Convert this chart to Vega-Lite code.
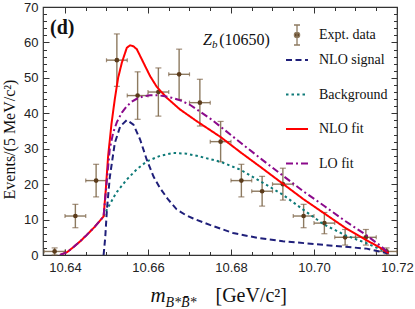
{
"$schema": "https://vega.github.io/schema/vega-lite/v6.json",
"width": 354, "height": 248,
"autosize": {"type": "none"},
"padding": {"left": 43, "top": 7, "right": 18, "bottom": 54},
"background": "white",
"datasets": {
"points": [
{"x":10.6375,"y":1,"lo":0,"hi":2,"xlo":10.635,"xhi":10.640},
{"x":10.6425,"y":11,"lo":7.7,"hi":14.3,"xlo":10.640,"xhi":10.645},
{"x":10.6475,"y":21,"lo":16.4,"hi":25.6,"xlo":10.645,"xhi":10.650},
{"x":10.6525,"y":55,"lo":47.6,"hi":62.4,"xlo":10.650,"xhi":10.655},
{"x":10.6575,"y":45,"lo":38.3,"hi":51.7,"xlo":10.655,"xhi":10.660},
{"x":10.6625,"y":46,"lo":39.2,"hi":52.8,"xlo":10.660,"xhi":10.665},
{"x":10.6675,"y":51,"lo":43.9,"hi":58.1,"xlo":10.665,"xhi":10.670},
{"x":10.6725,"y":43,"lo":36.4,"hi":49.6,"xlo":10.670,"xhi":10.675},
{"x":10.6775,"y":32,"lo":26.3,"hi":37.7,"xlo":10.675,"xhi":10.680},
{"x":10.6825,"y":21,"lo":16.4,"hi":25.6,"xlo":10.680,"xhi":10.685},
{"x":10.6875,"y":18,"lo":13.8,"hi":22.2,"xlo":10.685,"xhi":10.690},
{"x":10.6925,"y":20,"lo":15.5,"hi":24.5,"xlo":10.690,"xhi":10.695},
{"x":10.6975,"y":11,"lo":7.7,"hi":14.3,"xlo":10.695,"xhi":10.700},
{"x":10.7025,"y":9,"lo":6,"hi":12,"xlo":10.700,"xhi":10.705},
{"x":10.7075,"y":5,"lo":2.8,"hi":7.2,"xlo":10.705,"xhi":10.710},
{"x":10.7125,"y":5,"lo":2.8,"hi":7.2,"xlo":10.710,"xhi":10.715},
{"x":10.7175,"y":1,"lo":0,"hi":2,"xlo":10.715,"xhi":10.720}
],
"curves": [
{"series":"Background","x":10.6493,"y":10.9},
{"series":"Background","x":10.6501,"y":12.8},
{"series":"Background","x":10.6523,"y":17.5},
{"series":"Background","x":10.6549,"y":21.3},
{"series":"Background","x":10.6573,"y":24.2},
{"series":"Background","x":10.6597,"y":26.4},
{"series":"Background","x":10.6629,"y":28.0},
{"series":"Background","x":10.6661,"y":28.8},
{"series":"Background","x":10.6693,"y":28.6},
{"series":"Background","x":10.6725,"y":27.8},
{"series":"Background","x":10.6775,"y":26.3},
{"series":"Background","x":10.6824,"y":24.0},
{"series":"Background","x":10.6874,"y":20.6},
{"series":"Background","x":10.6925,"y":17.0},
{"series":"Background","x":10.6974,"y":12.8},
{"series":"Background","x":10.7024,"y":8.6},
{"series":"Background","x":10.7075,"y":5.6},
{"series":"Background","x":10.7125,"y":3.4},
{"series":"Background","x":10.7160,"y":1.6},
{"series":"Background","x":10.7180,"y":0.4},
{"series":"NLO signal","x":10.6493,"y":0},
{"series":"NLO signal","x":10.6497,"y":5},
{"series":"NLO signal","x":10.6501,"y":12.8},
{"series":"NLO signal","x":10.6508,"y":22},
{"series":"NLO signal","x":10.6520,"y":31.6},
{"series":"NLO signal","x":10.6533,"y":36.3},
{"series":"NLO signal","x":10.6549,"y":38.1},
{"series":"NLO signal","x":10.6565,"y":36.8},
{"series":"NLO signal","x":10.6581,"y":32.6},
{"series":"NLO signal","x":10.6597,"y":26.9},
{"series":"NLO signal","x":10.6613,"y":22.2},
{"series":"NLO signal","x":10.6629,"y":18.9},
{"series":"NLO signal","x":10.6649,"y":15.6},
{"series":"NLO signal","x":10.6669,"y":12.9},
{"series":"NLO signal","x":10.6689,"y":11.4},
{"series":"NLO signal","x":10.6709,"y":10.3},
{"series":"NLO signal","x":10.6749,"y":8.5},
{"series":"NLO signal","x":10.6805,"y":6.2},
{"series":"NLO signal","x":10.6865,"y":4.8},
{"series":"NLO signal","x":10.6925,"y":3.9},
{"series":"NLO signal","x":10.7046,"y":2.6},
{"series":"NLO signal","x":10.7127,"y":1.8},
{"series":"NLO signal","x":10.7180,"y":0.4},
{"series":"NLO fit","x":10.6388,"y":0},
{"series":"NLO fit","x":10.6405,"y":0.8},
{"series":"NLO fit","x":10.6420,"y":2.2},
{"series":"NLO fit","x":10.6436,"y":3.8},
{"series":"NLO fit","x":10.6452,"y":5.6},
{"series":"NLO fit","x":10.6472,"y":8.0},
{"series":"NLO fit","x":10.6493,"y":10.9},
{"series":"NLO fit","x":10.6498,"y":18},
{"series":"NLO fit","x":10.6504,"y":28},
{"series":"NLO fit","x":10.6512,"y":37},
{"series":"NLO fit","x":10.6520,"y":44},
{"series":"NLO fit","x":10.6528,"y":50},
{"series":"NLO fit","x":10.6537,"y":54.3},
{"series":"NLO fit","x":10.6549,"y":58.5},
{"series":"NLO fit","x":10.6557,"y":59.2},
{"series":"NLO fit","x":10.6565,"y":58.9},
{"series":"NLO fit","x":10.6573,"y":58.1},
{"series":"NLO fit","x":10.6589,"y":54.3},
{"series":"NLO fit","x":10.6605,"y":50.5},
{"series":"NLO fit","x":10.6621,"y":47.5},
{"series":"NLO fit","x":10.6645,"y":44.4},
{"series":"NLO fit","x":10.6677,"y":41.1},
{"series":"NLO fit","x":10.6717,"y":37.8},
{"series":"NLO fit","x":10.6775,"y":33.3},
{"series":"NLO fit","x":10.6824,"y":28.9},
{"series":"NLO fit","x":10.6874,"y":24.6},
{"series":"NLO fit","x":10.6925,"y":20.1},
{"series":"NLO fit","x":10.6974,"y":15.8},
{"series":"NLO fit","x":10.7024,"y":11.8},
{"series":"NLO fit","x":10.7075,"y":7.7},
{"series":"NLO fit","x":10.7125,"y":4.3},
{"series":"NLO fit","x":10.7160,"y":2.0},
{"series":"NLO fit","x":10.7180,"y":0.5},
{"series":"LO fit","x":10.6388,"y":0},
{"series":"LO fit","x":10.6405,"y":0.8},
{"series":"LO fit","x":10.6420,"y":2.2},
{"series":"LO fit","x":10.6436,"y":3.8},
{"series":"LO fit","x":10.6452,"y":5.6},
{"series":"LO fit","x":10.6472,"y":8.0},
{"series":"LO fit","x":10.6493,"y":10.9},
{"series":"LO fit","x":10.6500,"y":20},
{"series":"LO fit","x":10.6508,"y":30},
{"series":"LO fit","x":10.6516,"y":34.5},
{"series":"LO fit","x":10.6525,"y":37.5},
{"series":"LO fit","x":10.6537,"y":40.2},
{"series":"LO fit","x":10.6549,"y":42},
{"series":"LO fit","x":10.6561,"y":43.3},
{"series":"LO fit","x":10.6573,"y":44.1},
{"series":"LO fit","x":10.6589,"y":44.8},
{"series":"LO fit","x":10.6605,"y":45.1},
{"series":"LO fit","x":10.6621,"y":45.1},
{"series":"LO fit","x":10.6637,"y":44.9},
{"series":"LO fit","x":10.6657,"y":44.4},
{"series":"LO fit","x":10.6677,"y":43.7},
{"series":"LO fit","x":10.6701,"y":42.4},
{"series":"LO fit","x":10.6725,"y":40.5},
{"series":"LO fit","x":10.6750,"y":38.5},
{"series":"LO fit","x":10.6775,"y":36.2},
{"series":"LO fit","x":10.6824,"y":31.6},
{"series":"LO fit","x":10.6874,"y":27.0},
{"series":"LO fit","x":10.6925,"y":22.4},
{"series":"LO fit","x":10.6974,"y":18.0},
{"series":"LO fit","x":10.7024,"y":13.9},
{"series":"LO fit","x":10.7075,"y":9.6},
{"series":"LO fit","x":10.7125,"y":5.7},
{"series":"LO fit","x":10.7160,"y":2.6},
{"series":"LO fit","x":10.7180,"y":0.6}
]
},
"resolve": {"axis": {"x": "independent", "y": "independent"}},
"layer": [
{
"data": {"name": "points"},
"mark": {"type": "rule", "color": "#8d7a60", "strokeWidth": 1.4},
"encoding": {
"x": {"field": "x", "type": "quantitative", "scale": {"domain": [10.6347, 10.72], "nice": false, "zero": false},
 "axis": {"orient": "bottom", "values": [10.645,10.65,10.655,10.665,10.67,10.675,10.685,10.69,10.695,10.705,10.71,10.715], "tickSize": -3.5, "labels": false, "title": "B*B̄*", "titleFontStyle": "italic", "titleFontSize": 14, "titleX": 122, "titleY": 51.5, "titleAlign": "left", "titleBaseline": "alphabetic"}},
"y": {"field": "lo", "type": "quantitative", "scale": {"domain": [0, 70], "nice": false, "zero": false},
 "axis": {"orient": "left", "values": [2,4,6,8,12,14,16,18,22,24,26,28,32,34,36,38,42,44,46,48,52,54,56,58,62,64,66,68], "tickSize": -3.5, "labels": false, "title": null}},
"y2": {"field": "hi"}
}
},
{
"data": {"name": "points"},
"mark": {"type": "rule", "color": "#8d7a60", "strokeWidth": 1.4},
"encoding": {
"x": {"field": "xlo", "type": "quantitative", "scale": {"domain": [10.6347, 10.72], "nice": false, "zero": false},
 "axis": {"orient": "top", "values": [10.64,10.66,10.68,10.70,10.72], "tickSize": -6, "labels": false, "title": "[GeV/c²]", "titleFontSize": 20, "titleX": 172, "titleY": 294.5, "titleAlign": "left", "titleBaseline": "alphabetic"}},
"x2": {"field": "xhi"},
"y": {"field": "y", "type": "quantitative", "scale": {"domain": [0, 70], "nice": false, "zero": false},
 "axis": {"orient": "right", "values": [0,10,20,30,40,50,60,70], "tickSize": -6, "labels": false, "title": null}}
}
},
{
"data": {"name": "points"},
"mark": {"type": "tick", "orient": "horizontal", "color": "#7a6043", "size": 6, "thickness": 1.2},
"encoding": {
"x": {"field": "x", "type": "quantitative", "scale": {"domain": [10.6347, 10.72], "nice": false, "zero": false}, "axis": null},
"y": {"field": "hi", "type": "quantitative", "scale": {"domain": [0, 70], "nice": false, "zero": false}, "axis": null}
}
},
{
"data": {"name": "points"},
"mark": {"type": "tick", "orient": "horizontal", "color": "#7a6043", "size": 6, "thickness": 1.2},
"encoding": {
"x": {"field": "x", "type": "quantitative", "scale": {"domain": [10.6347, 10.72], "nice": false, "zero": false}, "axis": null},
"y": {"field": "lo", "type": "quantitative", "scale": {"domain": [0, 70], "nice": false, "zero": false}, "axis": null}
}
},
{
"data": {"name": "points"},
"mark": {"type": "tick", "orient": "vertical", "color": "#7a6043", "size": 4, "thickness": 1.2},
"encoding": {
"x": {"field": "xlo", "type": "quantitative", "scale": {"domain": [10.6347, 10.72], "nice": false, "zero": false}, "axis": null},
"y": {"field": "y", "type": "quantitative", "scale": {"domain": [0, 70], "nice": false, "zero": false}, "axis": null}
}
},
{
"data": {"name": "points"},
"mark": {"type": "tick", "orient": "vertical", "color": "#7a6043", "size": 4, "thickness": 1.2},
"encoding": {
"x": {"field": "xhi", "type": "quantitative", "scale": {"domain": [10.6347, 10.72], "nice": false, "zero": false}, "axis": null},
"y": {"field": "y", "type": "quantitative", "scale": {"domain": [0, 70], "nice": false, "zero": false}, "axis": null}
}
},
{
"data": {"name": "points"},
"mark": {"type": "point", "filled": true, "color": "#5b3b1b", "size": 22, "opacity": 1},
"encoding": {
"x": {"field": "x", "type": "quantitative", "scale": {"domain": [10.6347, 10.72], "nice": false, "zero": false},
 "axis": {"orient": "top", "values": [10.645,10.65,10.655,10.665,10.67,10.675,10.685,10.69,10.695,10.705,10.71,10.715], "tickSize": -3.5, "labels": false, "title": null}},
"y": {"field": "y", "type": "quantitative", "scale": {"domain": [0, 70], "nice": false, "zero": false},
 "axis": {"orient": "right", "values": [2,4,6,8,12,14,16,18,22,24,26,28,32,34,36,38,42,44,46,48,52,54,56,58,62,64,66,68], "tickSize": -3.5, "labels": false, "title": null}}
}
},
{
"data": {"name": "points"},
"mark": {"type": "point", "filled": true, "fill": "#5b3b1b", "stroke": "#8d7a60", "strokeWidth": 1.3, "opacity": 0},
"encoding": {
"x": {"field": "x", "type": "quantitative", "scale": {"domain": [10.6347, 10.72], "nice": false, "zero": false}, "axis": null},
"y": {"field": "y", "type": "quantitative", "scale": {"domain": [0, 70], "nice": false, "zero": false}, "axis": null},
"shape": {"datum": "Expt. data", "scale": {"domain": ["Expt. data"], "range": ["M-0.3,-1L0.3,-1M0,-1L0,1M-0.3,1L0.3,1M0.26,0A0.26,0.26,0,1,1,-0.26,0A0.26,0.26,0,1,1,0.26,0Z"]},
 "legend": {"orient": "none", "legendX": 243, "legendY": 17, "title": null, "symbolSize": 400, "symbolOpacity": 1, "symbolStrokeWidth": 1.3, "labelOffset": 11, "padding": 0}}
}
},
{
"data": {"name": "curves"},
"mark": {"type": "line", "strokeWidth": 2, "strokeCap": "butt", "clip": true},
"encoding": {
"x": {"field": "x", "type": "quantitative", "scale": {"domain": [10.6347, 10.72], "nice": false, "zero": false},
 "axis": {"orient": "bottom", "values": [10.64,10.66,10.68,10.70,10.72], "format": ".2f", "tickSize": -6, "labelPadding": 12, "labelFlush": false, "labelOverlap": false, "title": "m", "titleFontStyle": "italic", "titleFontSize": 21, "titleX": 107, "titleY": 46.5, "titleAlign": "left", "titleBaseline": "alphabetic"}},
"y": {"field": "y", "type": "quantitative", "scale": {"domain": [0, 70], "nice": false, "zero": false},
 "axis": {"orient": "left", "values": [0,10,20,30,40,50,60,70], "tickSize": -6, "labelPadding": 11, "labelOverlap": false, "title": "Events/(5 MeV/c²)", "titleFontSize": 16, "titleAngle": -90, "titleX": -29, "titleY": 132, "titleAlign": "center", "titleBaseline": "alphabetic"}},
"color": {"field": "series", "type": "nominal",
 "scale": {"domain": ["NLO signal", "Background", "NLO fit", "LO fit"], "range": ["#1f1f7a", "#0e7a78", "#ff0000", "#8b0a8b"]},
 "legend": {"orient": "none", "legendX": 242, "legendY": 41, "title": null, "symbolType": "stroke", "symbolSize": 484, "symbolStrokeWidth": 2, "rowPadding": 15.5, "labelOffset": 10, "padding": 0}},
"strokeDash": {"field": "series", "type": "nominal",
 "scale": {"domain": ["NLO signal", "Background", "NLO fit", "LO fit"], "range": [[6, 3.5], [2.5, 3], [1, 0], [7, 3, 2, 3]]},
 "legend": {"orient": "none", "legendX": 242, "legendY": 41, "title": null, "symbolType": "stroke", "symbolSize": 484, "symbolStrokeWidth": 2, "rowPadding": 15.5, "labelOffset": 10, "padding": 0}}
}
},
{
"data": {"values": [{}]},
"mark": {"type": "text", "text": "(d)", "font": "Liberation Serif", "fontSize": 20, "fontWeight": "bold", "align": "left", "baseline": "alphabetic", "color": "#111"},
"encoding": {
"x": {"datum": 10.6364, "type": "quantitative", "scale": {"domain": [10.6347, 10.72], "nice": false, "zero": false}, "axis": null},
"y": {"datum": 62.4, "type": "quantitative", "scale": {"domain": [0, 70], "nice": false, "zero": false}, "axis": null}
}
},
{
"data": {"values": [{}]},
"mark": {"type": "text", "text": "Z", "font": "Liberation Serif", "fontSize": 16, "fontStyle": "italic", "align": "left", "baseline": "alphabetic", "color": "#111"},
"encoding": {
"x": {"datum": 10.67325, "type": "quantitative", "scale": {"domain": [10.6347, 10.72], "nice": false, "zero": false}, "axis": null},
"y": {"datum": 59.4, "type": "quantitative", "scale": {"domain": [0, 70], "nice": false, "zero": false}, "axis": null}
}
},
{
"data": {"values": [{}]},
"mark": {"type": "text", "text": "b", "font": "Liberation Serif", "fontSize": 11, "fontStyle": "italic", "align": "left", "baseline": "alphabetic", "color": "#111", "dx": 9, "dy": 3},
"encoding": {
"x": {"datum": 10.67325, "type": "quantitative", "scale": {"domain": [10.6347, 10.72], "nice": false, "zero": false}, "axis": null},
"y": {"datum": 59.4, "type": "quantitative", "scale": {"domain": [0, 70], "nice": false, "zero": false}, "axis": null}
}
},
{
"data": {"values": [{}]},
"mark": {"type": "text", "text": "(10650)", "font": "Liberation Serif", "fontSize": 16, "align": "left", "baseline": "alphabetic", "color": "#111", "dx": 16.3},
"encoding": {
"x": {"datum": 10.67325, "type": "quantitative", "scale": {"domain": [10.6347, 10.72], "nice": false, "zero": false}, "axis": null},
"y": {"datum": 59.4, "type": "quantitative", "scale": {"domain": [0, 70], "nice": false, "zero": false}, "axis": null}
}
}
],
"config": {
"view": {"stroke": "#333", "strokeWidth": 1.2},
"axis": {"domain": false, "grid": false, "tickColor": "#333", "tickWidth": 1, "labelFont": "Liberation Sans", "labelFontSize": 13, "labelColor": "#222", "titleColor": "#111", "titleFont": "Liberation Serif", "titleFontWeight": "normal"},
"legend": {"labelFont": "Liberation Serif", "labelFontSize": 14, "labelColor": "#111", "labelLimit": 200}
}
}
